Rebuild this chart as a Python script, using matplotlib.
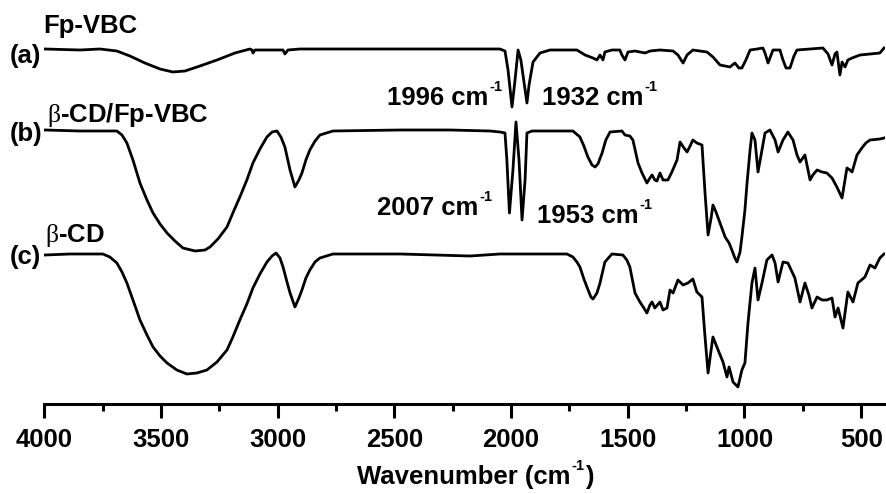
import matplotlib

matplotlib.use("Agg")
import matplotlib.pyplot as plt
from matplotlib.ticker import MultipleLocator

# FTIR spectra, transmittance in arbitrary units (traces already offset for stacking)
fp_vbc_wn = [3997, 3847, 3761, 3689, 3633, 3569, 3504, 3449, 3397, 3333, 3260, 3183, 3119, 3110,
             3106, 3097, 3033, 2977, 2969, 2956, 2904, 2690, 2476, 2262, 2133, 2048, 2026, 2013,
             1996, 1983, 1970, 1958, 1932, 1923, 1906, 1876, 1833, 1769, 1718, 1683, 1649, 1632,
             1619, 1606, 1598, 1568, 1534, 1525, 1512, 1499, 1469, 1426, 1405, 1362, 1306, 1285,
             1263, 1246, 1221, 1191, 1161, 1135, 1105, 1083, 1062, 1041, 1024, 1011, 994, 976,
             946, 921, 912, 899, 886, 878, 848, 835, 822, 805, 788, 775, 719, 664, 642, 625, 612,
             604, 591, 582, 569, 557, 539, 505, 462, 420, 402]
fp_vbc_t = [355, 354, 355, 353, 348, 341, 335, 332, 333, 338, 344, 351, 355, 354,
            351, 354, 354, 354, 350, 354, 355, 355, 355, 355, 355, 355, 353, 334,
            297, 324, 354, 344, 301, 319, 342, 351, 354, 354, 354, 349, 346, 344,
            349, 344, 352, 354, 354, 349, 344, 352, 353, 351, 353, 354, 353, 349,
            341, 349, 354, 353, 352, 347, 339, 338, 337, 341, 336, 336, 344, 354,
            355, 356, 351, 341, 349, 354, 354, 344, 336, 336, 348, 354, 355, 356, 350, 339, 350,
            352, 329, 342, 337, 344, 346, 349, 350, 351, 356]

cd_fp_vbc_wn = [3997, 3847, 3689, 3667, 3646, 3620, 3590, 3560, 3534, 3504, 3474, 3440, 3406,
                3354, 3311, 3290, 3256, 3217, 3192, 3162, 3132, 3106, 3076, 3046, 3024, 3003,
                2986, 2969, 2947, 2926, 2909, 2896, 2879, 2862, 2840, 2819, 2763, 2476, 2262,
                2090, 2048, 2026, 2018, 2007, 1992, 1979, 1966, 1953, 1940, 1932, 1910, 1790,
                1735, 1705, 1688, 1671, 1653, 1640, 1628, 1610, 1594, 1576, 1525, 1512, 1491,
                1478, 1456, 1439, 1418, 1405, 1396, 1384, 1375, 1362, 1349, 1328, 1311, 1289,
                1276, 1259, 1246, 1233, 1221, 1204, 1182, 1169, 1156, 1143, 1135, 1122, 1105,
                1083, 1066, 1054, 1041, 1032, 1019, 1011, 998, 989, 976, 968, 955, 942, 925,
                912, 891, 869, 856, 835, 814, 792, 775, 762, 741, 719, 707, 689, 668, 647, 625,
                604, 582, 561, 548, 539, 518, 497, 480, 462, 420, 402]
cd_fp_vbc_t = [274, 273, 273, 269, 261, 244, 221, 204, 191, 180, 171, 163, 156,
               153, 154, 157, 165, 177, 191, 207, 224, 241, 255, 267, 272, 273,
               267, 257, 234, 217, 224, 231, 244, 254, 263, 269, 273, 274, 274,
               273, 272, 271, 244, 191, 234, 282, 244, 184, 224, 271, 273, 273,
               273, 267, 258, 247, 239, 237, 240, 251, 264, 272, 273, 269, 268,
               264, 241, 231, 221, 226, 229, 224, 223, 231, 224, 224, 232, 244,
               262, 256, 252, 258, 264, 261, 259, 211, 169, 186, 199, 192, 181,
               167, 161, 154, 146, 142, 152, 167, 194, 221, 254, 271, 264, 232, 254,
               271, 274, 264, 252, 264, 272, 264, 249, 242, 249, 224, 229, 234, 232, 231, 226,
               217, 206, 236, 234, 232, 249, 256, 261, 264, 265, 266]

cd_wn = [3997, 3890, 3749, 3719, 3689, 3667, 3646, 3620, 3590, 3560, 3534, 3504, 3474, 3432,
         3389, 3346, 3303, 3260, 3217, 3192, 3162, 3132, 3106, 3076, 3046, 3024, 3007, 2990,
         2977, 2960, 2947, 2926, 2909, 2896, 2879, 2862, 2840, 2819, 2763, 2476, 2176, 2048,
         1761, 1735, 1718, 1705, 1688, 1675, 1658, 1649, 1632, 1619, 1598, 1568, 1521, 1504,
         1491, 1469, 1448, 1431, 1418, 1405, 1396, 1384, 1362, 1349, 1332, 1319, 1306, 1285,
         1263, 1242, 1221, 1204, 1182, 1169, 1156, 1143, 1135, 1113, 1092, 1075, 1066, 1049,
         1028, 1011, 998, 985, 968, 955, 942, 925, 904, 882, 869, 856, 835, 814, 784, 762,
         741, 724, 711, 689, 668, 647, 625, 612, 599, 578, 557, 535, 514, 484, 462, 441, 420,
         402]
cd_t = [149, 150, 150, 147, 141, 132, 121, 104, 84, 69, 57, 48, 41, 34,
        30, 31, 34, 42, 54, 67, 84, 100, 116, 130, 142, 148, 151, 146,
        137, 122, 111, 97, 106, 114, 126, 134, 142, 146, 150, 150, 148, 150,
        150, 147, 142, 137, 125, 117, 107, 105, 111, 121, 142, 150, 149, 144,
        137, 111, 102, 96, 91, 99, 102, 96, 102, 94, 96, 114, 111, 124,
        119, 121, 125, 112, 107, 67, 31, 54, 67, 54, 42, 27, 37, 22,
        17, 34, 41, 81, 121, 136, 104, 121, 144, 149, 141, 122, 142, 141, 126, 102,
        121, 109, 96, 107, 104, 104, 106, 87, 96, 76, 112, 102, 121, 127, 139, 136, 146,
        150]

peak_labels = [
    # (text, wavenumber, baseline)
    ("1996 cm", 2533, 299),
    ("1932 cm", 1869, 299),
    ("2007 cm", 2576, 189),
    ("1953 cm", 1890, 181),
]

FS = 18.5
SUP_FS = 10.5

plt.rcParams["font.family"] = ["Liberation Sans", "DejaVu Sans"]
plt.rcParams["font.weight"] = "bold"
plt.rcParams["mathtext.fontset"] = "custom"
plt.rcParams["mathtext.rm"] = "Liberation Serif:weight=normal"

fig = plt.figure(figsize=(8.87, 4.94), dpi=100)
ax = fig.add_axes([0.0499, 0.1822, 0.9473, 0.8178])

for wn, t in [(fp_vbc_wn, fp_vbc_t), (cd_fp_vbc_wn, cd_fp_vbc_t), (cd_wn, cd_t)]:
    ax.plot(wn, t, color="black", lw=2.0, solid_joinstyle="round")

ax.set_xlim(4000, 400)
ax.set_ylim(0, 404)
for side in ("left", "right", "top"):
    ax.spines[side].set_visible(False)
ax.spines["bottom"].set_linewidth(2.2)
ax.set_yticks([])
ax.xaxis.set_major_locator(MultipleLocator(500))
ax.xaxis.set_minor_locator(MultipleLocator(250))
ax.tick_params(axis="x", which="major", direction="out", length=10, width=2.2,
               pad=7, labelsize=FS)
ax.tick_params(axis="x", which="minor", direction="out", length=5, width=2.2)


def add_sup(base, tail=None):
    """Attach a raised '-1' (and optional tail text) after a text artist."""
    sup = ax.annotate("-1", xy=(1, 1), xycoords=base, xytext=(0.8, 4.5),
                      textcoords="offset points", ha="left", va="top",
                      fontsize=SUP_FS, fontweight="bold")
    if tail:
        ax.annotate(tail, xy=(1, 0), xycoords=(sup, base), xytext=(0.5, 0),
                    textcoords="offset points", ha="left", va="bottom",
                    fontsize=FS, fontweight="bold")
    return sup


for text, wn, y in peak_labels:
    t = ax.text(wn, y, text, ha="left", va="baseline", fontsize=FS)
    add_sup(t)

# sample names and panel letters
fig.text(0.0485, 0.9332, "Fp-VBC", fontsize=FS, va="baseline")
fig.text(0.0113, 0.8725, "(a)", fontsize=FS, va="baseline")
fig.text(0.0530, 0.7530, r"$\mathrm{\beta}$-CD/Fp-VBC", fontsize=FS, va="baseline")
fig.text(0.0113, 0.7146, "(b)", fontsize=FS, va="baseline")
fig.text(0.0507, 0.5101, r"$\mathrm{\beta}$-CD", fontsize=FS, va="baseline")
fig.text(0.0113, 0.4656, "(c)", fontsize=FS, va="baseline")

xlab = fig.text(0.4025, 0.0202, "Wavenumber (cm", fontsize=FS, va="baseline")
add_sup(xlab, ")")

fig.savefig("out.png", dpi=100)
